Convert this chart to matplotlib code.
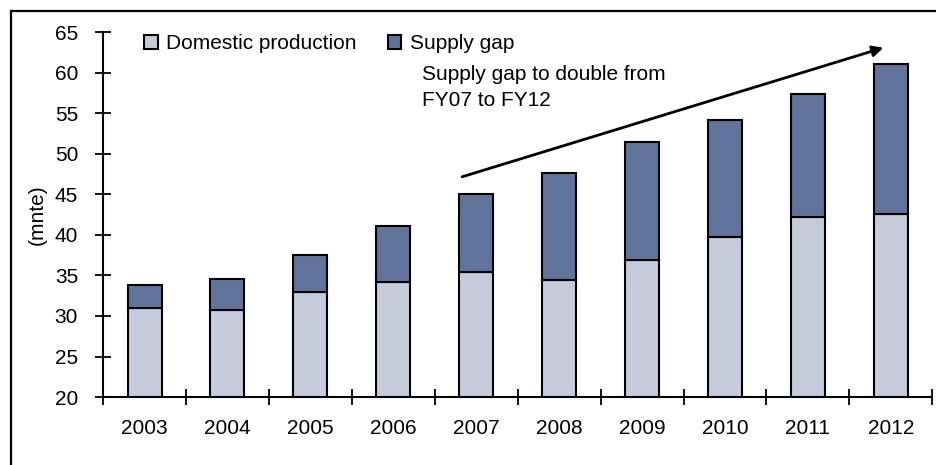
import matplotlib.pyplot as plt
from matplotlib.lines import Line2D
import numpy as np

plt.rcParams['font.family'] = ['Liberation Sans', 'DejaVu Sans']

years = ['2003', '2004', '2005', '2006', '2007', '2008', '2009', '2010', '2011', '2012']
domestic = [31.0, 30.8, 33.0, 34.2, 35.4, 34.4, 36.9, 39.7, 42.2, 42.6]
total = [33.8, 34.5, 37.5, 41.1, 45.1, 47.6, 51.5, 54.2, 57.4, 61.1]
gap = [t - d for t, d in zip(total, domestic)]

light = '#C5CBDB'
dark = '#60739A'
fs = 15

fig = plt.figure(figsize=(9.37, 4.65), dpi=100)
ax = fig.add_axes([0.110, 0.146, 0.885, 0.785])

# outer frame: left and top edges
fx = 11 / 937
fy = 1 - 11 / 465
fig.add_artist(Line2D([fx, fx], [0, fy], transform=fig.transFigure, color='black', lw=1.6))
fig.add_artist(Line2D([fx, 1], [fy, fy], transform=fig.transFigure, color='black', lw=1.6))

x = np.arange(len(years))
w = 0.41
ax.bar(x, domestic, w, bottom=0, color=light, edgecolor='black', linewidth=1.5,
       label='Domestic production')
ax.bar(x, gap, w, bottom=domestic, color=dark, edgecolor='black', linewidth=1.5,
       label='Supply gap')

ax.set_xlim(-0.5, len(years) - 0.5)
ax.set_ylim(20, 65)
ax.set_yticks(range(20, 66, 5))
ax.set_xticks(x)
ax.set_xticklabels(years)
ax.set_xticks(np.arange(-0.5, len(years)), minor=True)
ax.tick_params(axis='x', which='major', length=0, pad=16, labelsize=fs)
ax.tick_params(axis='x', which='minor', direction='inout', length=11, width=1.3)
ax.tick_params(axis='y', direction='inout', length=12, width=1.3, labelsize=fs, pad=12)

for s in ['top', 'right']:
    ax.spines[s].set_visible(False)
for s in ['left', 'bottom']:
    ax.spines[s].set_linewidth(1.5)

ax.set_ylabel('(mnte)', fontsize=fs, labelpad=6)

ax.legend(loc='upper left', bbox_to_anchor=(0.027, 1.045), ncol=2, frameon=False,
          fontsize=fs, handlelength=0.65, handleheight=0.65, handletextpad=0.4,
          columnspacing=1.5)

# growth arrow and note
ax.annotate('', xy=(8.91, 63.07), xytext=(3.83, 47.16),
            arrowprops=dict(arrowstyle='-|>', color='black', lw=2,
                            mutation_scale=16, shrinkA=0, shrinkB=0))
ax.text(3.35, 60.9, 'Supply gap to double from\nFY07 to FY12', fontsize=fs,
        va='top', ha='left', linespacing=1.45)

fig.savefig('out.png', dpi=100)
